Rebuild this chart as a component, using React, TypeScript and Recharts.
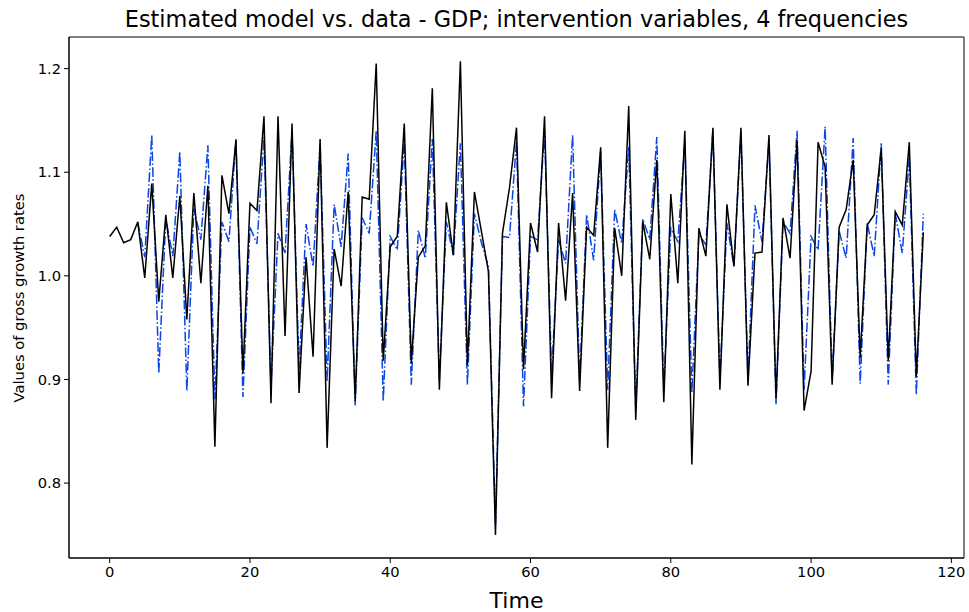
import { LineChart, Line, XAxis, YAxis, ReferenceArea } from 'recharts';

// observed GDP gross growth rates (black)
const gdpData = [
  1.038, 1.047, 1.032, 1.035, 1.052, 0.998, 1.089, 0.975, 1.059, 0.998,
  1.077, 0.958, 1.080, 0.993, 1.087, 0.835, 1.097, 1.060, 1.131, 0.906,
  1.070, 1.063, 1.154, 0.877, 1.154, 0.942, 1.147, 0.887, 1.018, 0.922,
  1.132, 0.834, 1.026, 0.990, 1.081, 0.879, 1.076, 1.074, 1.205, 0.918,
  1.028, 1.038, 1.147, 0.916, 1.018, 1.029, 1.181, 0.890, 1.071, 1.020,
  1.207, 0.914, 1.081, 1.043, 1.004, 0.750, 1.041, 1.085, 1.143, 0.910,
  1.051, 1.023, 1.154, 0.882, 1.051, 0.976, 1.080, 0.889, 1.047, 1.039,
  1.124, 0.834, 1.046, 1.000, 1.164, 0.861, 1.052, 1.016, 1.112, 0.878,
  1.079, 0.993, 1.140, 0.818, 1.046, 1.019, 1.143, 0.890, 1.069, 1.009,
  1.143, 0.894, 1.022, 1.023, 1.136, 0.881, 1.056, 1.017, 1.131, 0.870,
  0.908, 1.129, 1.105, 0.895, 1.047, 1.064, 1.112, 0.921, 1.049, 1.059,
  1.123, 0.918, 1.062, 1.049, 1.129, 0.903, 1.042,
];

// fitted model (blue, dash-dot), starts at t = 4
const modelFit: (number | null)[] = [
  null, null, null, null, 1.052, 1.018, 1.136, 0.906, 1.055, 1.019,
  1.120, 0.889, 1.065, 1.035, 1.126, 0.881, 1.052, 1.033, 1.132, 0.883,
  1.047, 1.031, 1.134, 0.894, 1.041, 1.022, 1.140, 0.910, 1.050, 1.009,
  1.128, 0.898, 1.069, 1.028, 1.118, 0.875, 1.056, 1.041, 1.140, 0.879,
  1.038, 1.025, 1.130, 0.895, 1.044, 1.017, 1.132, 0.900, 1.052, 1.020,
  1.128, 0.895, 1.060, 1.032, 1.009, 0.760, 1.038, 1.037, 1.130, 0.874,
  1.038, 1.035, 1.140, 0.905, 1.035, 1.012, 1.136, 0.900, 1.059, 1.015,
  1.120, 0.890, 1.064, 1.031, 1.124, 0.870, 1.055, 1.035, 1.134, 0.890,
  1.046, 1.033, 1.130, 0.887, 1.040, 1.030, 1.140, 0.900, 1.051, 1.009,
  1.140, 0.900, 1.068, 1.033, 1.130, 0.876, 1.052, 1.041, 1.140, 0.890,
  1.038, 1.025, 1.144, 0.900, 1.043, 1.017, 1.133, 0.896, 1.051, 1.019,
  1.128, 0.895, 1.060, 1.022, 1.115, 0.885, 1.060,
];

const xTicks = [0, 20, 40, 60, 80, 100, 120];
const yTicks = [0.8, 0.9, 1.0, 1.1, 1.2];
const xDomain: [number, number] = [-5.8, 121.8];
const yDomain: [number, number] = [0.7277, 1.2305];

const data = gdpData.map((v, i) => ({ t: i, gdp: v, model: modelFit[i] }));

const font = '"DejaVu Sans", sans-serif';
const tickStyle = { fontSize: 14.7, fill: '#000', fontFamily: font };

export default function App() {
  return (
    <div style={{ position: 'absolute', left: 0, top: 0, width: 969, height: 612, background: '#fff', fontFamily: font }}>
      <div style={{ position: 'absolute', left: 69, width: 895, top: 5.5, textAlign: 'center', fontSize: 22.4, color: '#000', whiteSpace: 'nowrap' }}>
        Estimated model vs. data - GDP; intervention variables, 4 frequencies
      </div>
      <div
        style={{
          position: 'absolute', left: 18, top: 298, fontSize: 14.7, color: '#000', whiteSpace: 'nowrap',
          transform: 'translate(-50%, -50%) rotate(-90deg)',
        }}
      >
        Values of gross growth rates
      </div>
      <div style={{ position: 'absolute', left: 69, width: 895, top: 588, textAlign: 'center', fontSize: 22, color: '#000' }}>
        Time
      </div>
      <LineChart width={969} height={612} data={data} margin={{ top: 37, right: 5, bottom: 0, left: 0 }}>
        <XAxis
          dataKey="t"
          type="number"
          domain={xDomain}
          ticks={xTicks}
          height={54}
          tickSize={5}
          tickMargin={4}
          tick={tickStyle}
          stroke="#000"
          allowDataOverflow
        />
        <YAxis
          type="number"
          domain={yDomain}
          ticks={yTicks}
          width={69}
          tickSize={5}
          tickMargin={3}
          tick={tickStyle}
          tickFormatter={(v: number) => v.toFixed(1)}
          stroke="#000"
          allowDataOverflow
        />
        <ReferenceArea
          x1={xDomain[0]}
          x2={xDomain[1]}
          y1={yDomain[0]}
          y2={yDomain[1]}
          fill="none"
          fillOpacity={0}
          stroke="#000"
          strokeWidth={1}
          ifOverflow="visible"
        />
        <Line
          dataKey="model"
          stroke="#0a45e6"
          strokeWidth={1.5}
          strokeDasharray="9.6 2.4 1.5 2.4"
          dot={false}
          connectNulls={false}
          isAnimationActive={false}
        />
        <Line dataKey="gdp" stroke="#000" strokeWidth={1.5} dot={false} isAnimationActive={false} />
      </LineChart>
    </div>
  );
}
